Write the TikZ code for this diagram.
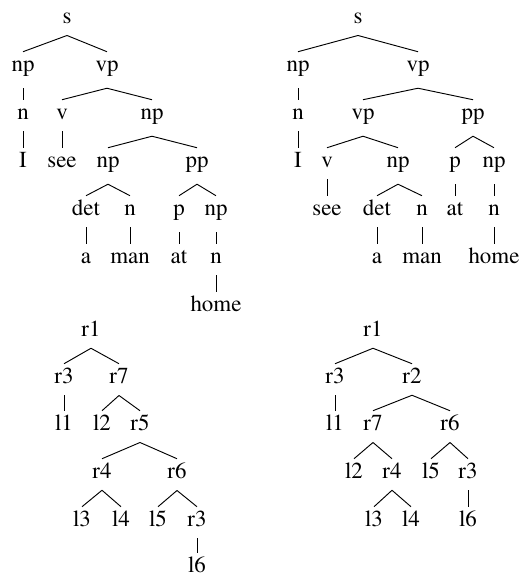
\documentclass[tikz,border=0pt]{standalone}
\usepackage[T1]{fontenc}
\renewcommand{\rmdefault}{ptm}
\tikzset{
  lab/.style={anchor=base, inner xsep=0pt, inner ysep=8.25pt, text height=6.75pt,
    font={\rmfamily\fontsize{17.2}{20}\selectfont}},
  branch/.style={line width=0.7pt}
}
\begin{document}
\begin{tikzpicture}[x=0.75pt,y=0.75pt]
	\useasboundingbox (0,0) rectangle (520,577);
	% parse tree, pp under np
	\node[lab] (as) at (67,553) {s};
	\node[lab] (anp) at (23,505) {np};
	\node[lab] (avp) at (107,505) {vp};
	\node[lab] (an) at (23,457) {n};
	\node[lab] (av) at (62,457) {v};
	\node[lab] (anpb) at (152,457) {np};
	\node[lab] (aI) at (23,409) {I};
	\node[lab] (asee) at (62,409) {see};
	\node[lab] (anpc) at (108,409) {np};
	\node[lab] (app) at (197,409) {pp};
	\node[lab] (adet) at (86,361) {det};
	\node[lab] (anb) at (130,361) {n};
	\node[lab] (ap) at (179,361) {p};
	\node[lab] (anpd) at (216,361) {np};
	\node[lab] (aa) at (86,313) {a};
	\node[lab] (aman) at (130,313) {man};
	\node[lab] (aat) at (179,313) {at};
	\node[lab] (anc) at (216,313) {n};
	\node[lab] (ahome) at (216,265) {home};
	\draw[branch] (as.south) -- (anp.north) (as.south) -- (avp.north);
	\draw[branch] (anp.south) -- (an.north) (an.south) -- (aI.north);
	\draw[branch] (avp.south) -- (av.north) (avp.south) -- (anpb.north);
	\draw[branch] (av.south) -- (asee.north);
	\draw[branch] (anpb.south) -- (anpc.north) (anpb.south) -- (app.north);
	\draw[branch] (anpc.south) -- (adet.north) (anpc.south) -- (anb.north);
	\draw[branch] (app.south) -- (ap.north) (app.south) -- (anpd.north);
	\draw[branch] (adet.south) -- (aa.north) (anb.south) -- (aman.north);
	\draw[branch] (ap.south) -- (aat.north) (anpd.south) -- (anc.north);
	\draw[branch] (anc.south) -- (ahome.north);
	% parse tree, pp under vp
	\node[lab] (bs) at (358,553) {s};
	\node[lab] (bnp) at (298,505) {np};
	\node[lab] (bvp) at (418,505) {vp};
	\node[lab] (bn) at (298,457) {n};
	\node[lab] (bvpb) at (363,457) {vp};
	\node[lab] (bpp) at (473,457) {pp};
	\node[lab] (bI) at (298,409) {I};
	\node[lab] (bv) at (327,409) {v};
	\node[lab] (bnpb) at (398,409) {np};
	\node[lab] (bp) at (455,409) {p};
	\node[lab] (bnpc) at (494,409) {np};
	\node[lab] (bsee) at (327,361) {see};
	\node[lab] (bdet) at (377,361) {det};
	\node[lab] (bnb) at (422,361) {n};
	\node[lab] (bat) at (455,361) {at};
	\node[lab] (bnc) at (494,361) {n};
	\node[lab] (ba) at (377,313) {a};
	\node[lab] (bman) at (422,313) {man};
	\node[lab] (bhome) at (494,313) {home};
	\draw[branch] (bs.south) -- (bnp.north) (bs.south) -- (bvp.north);
	\draw[branch] (bnp.south) -- (bn.north) (bn.south) -- (bI.north);
	\draw[branch] (bvp.south) -- (bvpb.north) (bvp.south) -- (bpp.north);
	\draw[branch] (bvpb.south) -- (bv.north) (bvpb.south) -- (bnpb.north);
	\draw[branch] (bpp.south) -- (bp.north) (bpp.south) -- (bnpc.north);
	\draw[branch] (bv.south) -- (bsee.north);
	\draw[branch] (bnpb.south) -- (bdet.north) (bnpb.south) -- (bnb.north);
	\draw[branch] (bp.south) -- (bat.north) (bnpc.south) -- (bnc.north);
	\draw[branch] (bdet.south) -- (ba.north) (bnb.south) -- (bman.north);
	\draw[branch] (bnc.south) -- (bhome.north);
	% rule tree, left
	\node[lab] (cr1) at (91,240) {r1};
	\node[lab] (cr3) at (64,193) {r3};
	\node[lab] (cr7) at (119,193) {r7};
	\node[lab] (cl1) at (64,146) {l1};
	\node[lab] (cl2) at (102,146) {l2};
	\node[lab] (cr5) at (140,146) {r5};
	\node[lab] (cr4) at (102,98) {r4};
	\node[lab] (cr6) at (177,98) {r6};
	\node[lab] (cl3) at (82,50) {l3};
	\node[lab] (cl4) at (121,50) {l4};
	\node[lab] (cl5) at (158,50) {l5};
	\node[lab] (cr3b) at (197,50) {r3};
	\node[lab] (cl6) at (197,4) {l6};
	\draw[branch] (cr1.south) -- (cr3.north) (cr1.south) -- (cr7.north);
	\draw[branch] (cr3.south) -- (cl1.north);
	\draw[branch] (cr7.south) -- (cl2.north) (cr7.south) -- (cr5.north);
	\draw[branch] (cr5.south) -- (cr4.north) (cr5.south) -- (cr6.north);
	\draw[branch] (cr4.south) -- (cl3.north) (cr4.south) -- (cl4.north);
	\draw[branch] (cr6.south) -- (cl5.north) (cr6.south) -- (cr3b.north);
	\draw[branch] (cr3b.south) -- (cl6.north);
	% rule tree, right
	\node[lab] (dr1) at (373,240) {r1};
	\node[lab] (dr3) at (335,193) {r3};
	\node[lab] (dr2) at (412,193) {r2};
	\node[lab] (dl1) at (335,146) {l1};
	\node[lab] (dr7) at (373,146) {r7};
	\node[lab] (dr6) at (450,146) {r6};
	\node[lab] (dl2) at (354,98) {l2};
	\node[lab] (dr4) at (392,98) {r4};
	\node[lab] (dl5) at (431,98) {l5};
	\node[lab] (dr3b) at (468,98) {r3};
	\node[lab] (dl3) at (374,50) {l3};
	\node[lab] (dl4) at (411,50) {l4};
	\node[lab] (dl6) at (468,50) {l6};
	\draw[branch] (dr1.south) -- (dr3.north) (dr1.south) -- (dr2.north);
	\draw[branch] (dr3.south) -- (dl1.north);
	\draw[branch] (dr2.south) -- (dr7.north) (dr2.south) -- (dr6.north);
	\draw[branch] (dr7.south) -- (dl2.north) (dr7.south) -- (dr4.north);
	\draw[branch] (dr6.south) -- (dl5.north) (dr6.south) -- (dr3b.north);
	\draw[branch] (dr4.south) -- (dl3.north) (dr4.south) -- (dl4.north);
	\draw[branch] (dr3b.south) -- (dl6.north);
\end{tikzpicture}
\end{document}
